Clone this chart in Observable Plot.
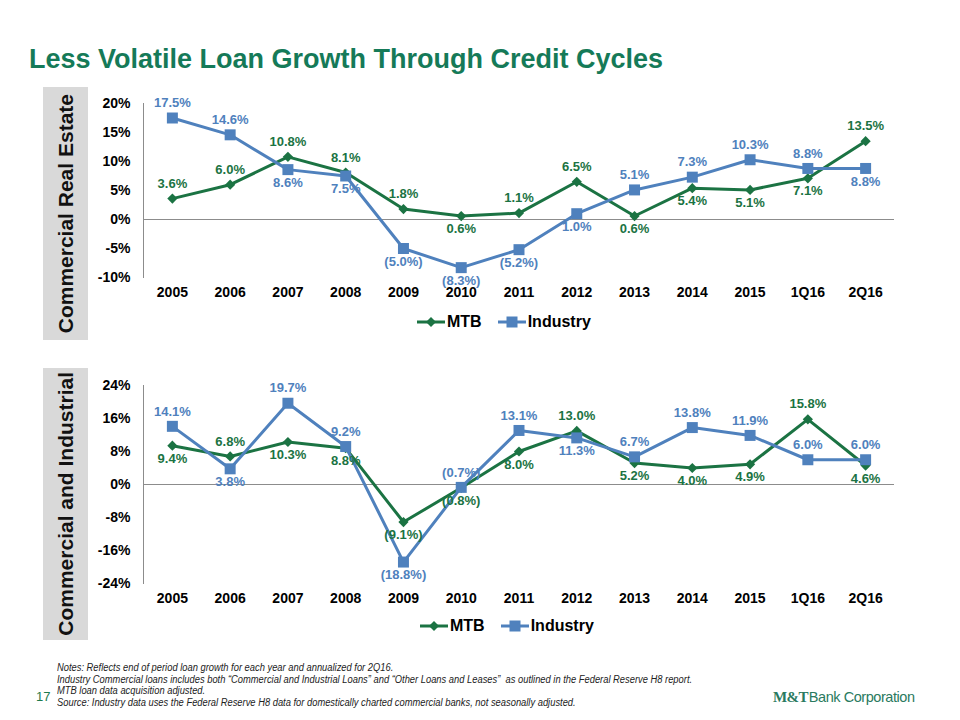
<!DOCTYPE html>
<html><head><meta charset="utf-8">
<script src="https://cdn.jsdelivr.net/npm/d3@7"></script>
<script src="https://cdn.jsdelivr.net/npm/@observablehq/plot@0.6"></script>
<style>
body{margin:0;background:#fff;}
#page{position:relative;width:960px;height:720px;overflow:hidden;font-family:"Liberation Sans",Arial,sans-serif;background:#fff;}
.abs{position:absolute;}
#title{left:29px;top:44px;font-size:27px;font-weight:bold;color:#157a58;white-space:nowrap;}
.side{background:#d9d9d9;width:45px;display:flex;align-items:center;justify-content:center;}
.side span{writing-mode:vertical-rl;transform:rotate(180deg);font-size:21px;font-weight:bold;color:#111;white-space:nowrap;}
.legend{display:flex;align-items:center;font-weight:bold;font-size:16px;color:#000;white-space:nowrap;}
.legend .item{display:flex;align-items:center;margin-right:16px;}
.legend svg{margin-right:2px;}
#notes{left:57px;top:662px;font-size:10px;font-style:italic;line-height:11.7px;color:#222;white-space:nowrap;transform:scaleX(0.935);transform-origin:0 0;}
#pnum{left:36px;top:689px;font-size:13px;color:#1e7b4e;}
#logo{left:773px;top:688px;color:#2a7a60;white-space:nowrap;}
#logo b{font-family:"Liberation Serif","DejaVu Serif",serif;font-weight:bold;font-size:15px;letter-spacing:-0.6px;}
#logo span{font-family:"Liberation Sans",Arial,sans-serif;font-size:14.5px;letter-spacing:-0.45px;font-weight:normal;margin-left:1px;}
</style>
</head><body>
<div id="page">
  <div id="title" class="abs">Less Volatile Loan Growth Through Credit Cycles</div>
  <div class="abs side" style="left:43px;top:87px;height:253px;"><span>Commercial Real Estate</span></div>
  <div class="abs side" style="left:43px;top:368px;height:272px;"><span>Commercial and Industrial</span></div>
  <div id="chart1" class="abs" style="left:90px;top:85px;"></div>
  <div id="chart2" class="abs" style="left:90px;top:365px;"></div>
  <div id="legend1" class="abs legend" style="left:417px;top:313px;"></div>
  <div id="legend2" class="abs legend" style="left:420px;top:617px;"></div>
  <div id="notes" class="abs">Notes: Reflects end of period loan growth for each year and annualized for 2Q16.<br>Industry Commercial loans includes both “Commercial and Industrial Loans” and “Other Loans and Leases”&nbsp; as outlined in the Federal Reserve H8 report.<br>MTB loan data acquisition adjusted.<br>Source: Industry data uses the Federal Reserve H8 data for domestically charted commercial banks, not seasonally adjusted.</div>
  <div id="pnum" class="abs">17</div>
  <div id="logo" class="abs"><b>M&amp;T</b><span>Bank Corporation</span></div>
</div>
<script>
const categories = ["2005","2006","2007","2008","2009","2010","2011","2012","2013","2014","2015","1Q16","2Q16"];
const seriesNames = ["MTB","Industry"];

// Commercial Real Estate
const creMtb      = [3.6, 6.0, 10.8, 8.1, 1.8, 0.6, 1.1, 6.5, 0.6, 5.4, 5.1, 7.1, 13.5];
const creIndustry = [17.5, 14.6, 8.6, 7.5, -5.0, -8.3, -5.2, 1.0, 5.1, 7.3, 10.3, 8.8, 8.8];
const creTicks    = [-10, -5, 0, 5, 10, 15, 20];
// label placement: a = above point, b = below point
const creMtbLabelSide      = ["a","a","a","a","a","b","a","a","b","b","b","b","a"];
const creIndustryLabelSide = ["a","a","b","b","b","b","b","b","a","a","a","a","b"];

// Commercial and Industrial
const ciMtb      = [9.4, 6.8, 10.3, 8.8, -9.1, -0.8, 8.0, 13.0, 5.2, 4.0, 4.9, 15.8, 4.6];
const ciIndustry = [14.1, 3.8, 19.7, 9.2, -18.8, -0.7, 13.1, 11.3, 6.7, 13.8, 11.9, 6.0, 6.0];
const ciTicks    = [-24, -16, -8, 0, 8, 16, 24];
const ciMtbLabelSide      = ["b","a","b","b","b","b","b","a","b","b","b","a","b"];
const ciIndustryLabelSide = ["a","b","a","a","b","a","a","b","a","a","a","a","a"];

const GREEN = "#1b7343";
const BLUE = "#4f81bd";
const GRAY = "#8c8c8c";

const fmt = v => v < 0 ? `(${Math.abs(v).toFixed(1)}%)` : `${v.toFixed(1)}%`;

function rows(vals, sides) {
  return categories.map((c, i) => ({cat: c, v: vals[i], side: sides[i]}));
}

function labels(data, color) {
  const base = {x: "cat", y: "v", text: d => fmt(d.v), fill: color, fontSize: 13, fontWeight: "bold"};
  return [
    Plot.text(data.filter(d => d.side === "a"), {...base, dy: -15}),
    Plot.text(data.filter(d => d.side === "b"), {...base, dy: 13})
  ];
}

function makeChart({mtb, ind, mtbSide, indSide, ticks, height, marginTop, marginBottom}) {
  const m = rows(mtb, mtbSide);
  const n = rows(ind, indSide);
  return Plot.plot({
    width: 830, height, marginLeft: 53, marginRight: 26, marginTop, marginBottom,
    style: {fontFamily: "'Liberation Sans', Arial, sans-serif", fontSize: "14px", fontWeight: "bold", color: "#000", background: "transparent", overflow: "visible"},
    x: {type: "point", domain: categories, round: false},
    y: {domain: [ticks[0], ticks[ticks.length - 1]]},
    marks: [
      Plot.frame({anchor: "left", stroke: GRAY}),
      Plot.ruleY([0], {stroke: GRAY, strokeWidth: 1}),
      Plot.axisY(ticks, {tickSize: 0, tickPadding: 13, tickFormat: d => d + "%", label: null, fontSize: 14, fontWeight: "bold"}),
      Plot.axisX({tickSize: 0, tickPadding: 10, label: null, fontSize: 14, fontWeight: "bold"}),
      Plot.line(m, {x: "cat", y: "v", stroke: GREEN, strokeWidth: 3}),
      Plot.dot(m, {x: "cat", y: "v", symbol: "diamond2", r: 4.6, fill: GREEN}),
      Plot.line(n, {x: "cat", y: "v", stroke: BLUE, strokeWidth: 3}),
      Plot.dot(n, {x: "cat", y: "v", symbol: "square", r: 6.2, fill: BLUE}),
      ...labels(m, GREEN),
      ...labels(n, BLUE)
    ]
  });
}

document.getElementById("chart1").appendChild(makeChart({
  mtb: creMtb, ind: creIndustry, mtbSide: creMtbLabelSide, indSide: creIndustryLabelSide,
  ticks: creTicks, height: 215, marginTop: 18, marginBottom: 23
}));
document.getElementById("chart2").appendChild(makeChart({
  mtb: ciMtb, ind: ciIndustry, mtbSide: ciMtbLabelSide, indSide: ciIndustryLabelSide,
  ticks: ciTicks, height: 245, marginTop: 20, marginBottom: 27
}));

function legend(id) {
  const el = document.getElementById(id);
  const colors = [GREEN, BLUE];
  seriesNames.forEach((name, i) => {
    const item = document.createElement("div");
    item.className = "item";
    const marker = i === 0
      ? `<path d="M14,2 L19,7 L14,12 L9,7 Z" fill="${GREEN}"/>`
      : `<rect x="8.5" y="1.5" width="11" height="11" fill="${BLUE}"/>`;
    item.innerHTML = `<svg width="28" height="14"><line x1="0" x2="28" y1="7" y2="7" stroke="${colors[i]}" stroke-width="3"/>${marker}</svg><span>${name}</span>`;
    el.appendChild(item);
  });
}
legend("legend1");
legend("legend2");
</script>
</body></html>
